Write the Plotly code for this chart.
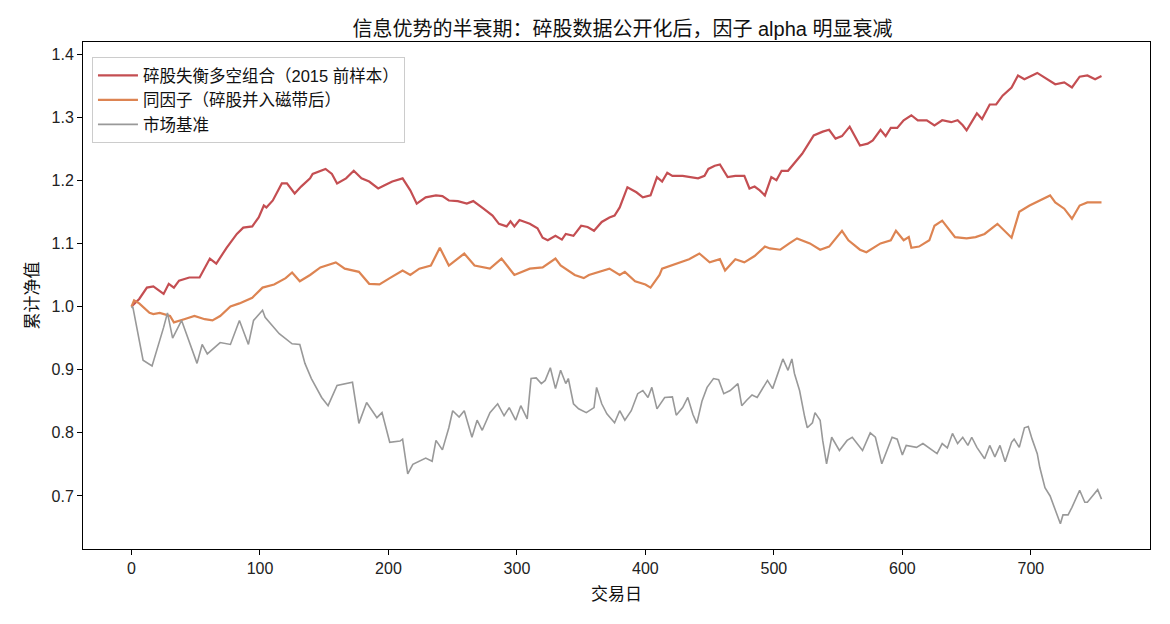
import plotly.graph_objects as go

# ---- data ----
red_days = [0, 6, 12, 17, 25, 29, 33, 37, 45, 53, 61, 66, 74, 82, 87, 94, 99, 103, 105, 110, 117, 121, 127, 132, 139, 141, 151, 156, 160, 167, 173, 179, 185, 192, 197, 203, 211, 217, 222, 229, 237, 242, 247, 254, 261, 266, 274, 281, 286, 292, 295, 298, 302, 310, 316, 320, 324, 330, 335, 338, 344, 350, 355, 360, 366, 372, 376, 380, 386, 393, 398, 404, 409, 413, 417, 421, 429, 437, 441, 446, 449, 454, 458, 464, 470, 477, 481, 485, 489, 493, 498, 502, 506, 511, 515, 522, 527, 531, 538, 543, 548, 553, 559, 563, 567, 573, 577, 583, 587, 591, 596, 601, 607, 612, 619, 625, 631, 638, 643, 647, 650, 658, 662, 668, 673, 678, 685, 690, 695, 705, 713, 719, 726, 732, 738, 744, 750, 755]
red_vals = [1.00, 1.012, 1.03, 1.032, 1.02, 1.036, 1.03, 1.041, 1.046, 1.046, 1.076, 1.068, 1.093, 1.115, 1.125, 1.127, 1.141, 1.16, 1.157, 1.168, 1.195, 1.195, 1.179, 1.19, 1.203, 1.21, 1.218, 1.21, 1.195, 1.203, 1.215, 1.203, 1.198, 1.187, 1.192, 1.198, 1.203, 1.184, 1.163, 1.173, 1.176, 1.175, 1.168, 1.167, 1.163, 1.167, 1.155, 1.144, 1.131, 1.127, 1.135, 1.127, 1.137, 1.131, 1.124, 1.109, 1.105, 1.112, 1.106, 1.115, 1.112, 1.128, 1.126, 1.12, 1.134, 1.141, 1.144, 1.157, 1.189, 1.181, 1.173, 1.176, 1.205, 1.198, 1.212, 1.207, 1.207, 1.205, 1.203, 1.207, 1.218, 1.223, 1.225, 1.205, 1.207, 1.207, 1.187, 1.19, 1.184, 1.176, 1.205, 1.2, 1.215, 1.215, 1.225, 1.242, 1.258, 1.271, 1.277, 1.28, 1.266, 1.27, 1.285, 1.27, 1.255, 1.258, 1.263, 1.28, 1.27, 1.283, 1.283, 1.295, 1.303, 1.295, 1.295, 1.287, 1.295, 1.292, 1.295, 1.287, 1.279, 1.306, 1.297, 1.32, 1.32, 1.334, 1.347, 1.366, 1.36, 1.37, 1.36, 1.352, 1.355, 1.347, 1.364, 1.366, 1.36, 1.365]

orange_days = [0, 2, 6, 14, 17, 22, 30, 33, 41, 49, 57, 63, 69, 77, 84, 94, 102, 111, 120, 125, 131, 139, 147, 159, 166, 177, 185, 193, 201, 211, 217, 224, 233, 240, 247, 259, 267, 279, 288, 298, 310, 320, 330, 334, 345, 352, 356, 364, 372, 380, 384, 392, 400, 404, 411, 413, 426, 434, 442, 450, 458, 462, 470, 477, 485, 493, 497, 505, 512, 518, 528, 536, 543, 553, 558, 567, 572, 583, 591, 595, 601, 605, 607, 613, 621, 625, 631, 641, 650, 657, 664, 674, 685, 691, 699, 715, 719, 726, 732, 738, 744, 755]
orange_vals = [1.0, 1.01, 1.005, 0.99, 0.988, 0.99, 0.985, 0.975, 0.98, 0.985, 0.98, 0.978, 0.985, 1.0, 1.005, 1.014, 1.03, 1.035, 1.045, 1.054, 1.04, 1.05, 1.062, 1.07, 1.06, 1.055, 1.036, 1.035, 1.045, 1.057, 1.05, 1.06, 1.065, 1.093, 1.065, 1.084, 1.065, 1.06, 1.076, 1.05, 1.06, 1.062, 1.076, 1.065, 1.05, 1.045, 1.05, 1.055, 1.06, 1.05, 1.055, 1.04, 1.035, 1.03, 1.05, 1.06, 1.07, 1.075, 1.084, 1.07, 1.075, 1.057, 1.075, 1.07, 1.08, 1.095, 1.092, 1.09, 1.10, 1.108, 1.10, 1.09, 1.095, 1.12, 1.105, 1.09, 1.086, 1.10, 1.105, 1.12, 1.105, 1.11, 1.093, 1.095, 1.105, 1.128, 1.136, 1.11, 1.108, 1.11, 1.115, 1.131, 1.109, 1.15, 1.16, 1.176, 1.165, 1.155, 1.139, 1.16, 1.165, 1.165]

gray_days = [0, 1, 9, 16, 25, 28, 32, 39, 51, 55, 59, 69, 77, 84, 91, 95, 102, 104, 115, 125, 131, 135, 140, 148, 153, 160, 172, 177, 183, 191, 195, 201, 209, 211, 215, 219, 229, 234, 237, 242, 247, 250, 255, 259, 265, 269, 273, 279, 285, 290, 294, 299, 303, 308, 311, 315, 319, 322, 326, 330, 334, 338, 340, 344, 348, 354, 360, 362, 366, 370, 376, 380, 384, 389, 394, 398, 402, 405, 409, 415, 421, 424, 429, 433, 437, 440, 444, 448, 453, 457, 461, 466, 472, 475, 479, 483, 487, 490, 495, 499, 505, 507, 511, 514, 516, 520, 524, 526, 530, 532, 536, 538, 541, 545, 551, 557, 561, 569, 575, 579, 584, 588, 592, 596, 600, 603, 611, 616, 621, 627, 631, 635, 639, 643, 647, 651, 654, 658, 664, 668, 672, 676, 680, 685, 687, 691, 695, 698, 701, 705, 707, 711, 715, 719, 723, 725, 729, 732, 738, 742, 744, 748, 752, 755]
gray_vals = [0.998, 1.0, 0.915, 0.906, 0.967, 0.99, 0.95, 0.978, 0.91, 0.94, 0.925, 0.943, 0.94, 0.978, 0.94, 0.978, 0.994, 0.983, 0.957, 0.941, 0.94, 0.91, 0.886, 0.856, 0.843, 0.875, 0.88, 0.815, 0.848, 0.824, 0.832, 0.785, 0.787, 0.79, 0.735, 0.75, 0.76, 0.755, 0.788, 0.773, 0.808, 0.835, 0.825, 0.835, 0.793, 0.82, 0.804, 0.832, 0.846, 0.827, 0.84, 0.82, 0.843, 0.822, 0.886, 0.887, 0.878, 0.883, 0.903, 0.87, 0.899, 0.878, 0.886, 0.846, 0.838, 0.832, 0.84, 0.872, 0.846, 0.83, 0.816, 0.835, 0.82, 0.835, 0.862, 0.867, 0.856, 0.872, 0.838, 0.856, 0.857, 0.828, 0.84, 0.856, 0.829, 0.815, 0.85, 0.872, 0.886, 0.884, 0.862, 0.867, 0.878, 0.843, 0.852, 0.86, 0.856, 0.867, 0.883, 0.87, 0.903, 0.917, 0.899, 0.917, 0.894, 0.867, 0.825, 0.808, 0.816, 0.832, 0.82, 0.788, 0.751, 0.793, 0.772, 0.788, 0.793, 0.772, 0.80, 0.793, 0.751, 0.772, 0.793, 0.79, 0.765, 0.78, 0.777, 0.783, 0.776, 0.767, 0.783, 0.776, 0.799, 0.783, 0.793, 0.78, 0.793, 0.777, 0.759, 0.78, 0.762, 0.78, 0.754, 0.785, 0.79, 0.777, 0.808, 0.81, 0.79, 0.767, 0.745, 0.713, 0.70, 0.677, 0.656, 0.67, 0.67, 0.682, 0.709, 0.69, 0.69, 0.70, 0.71, 0.695]

names = ["碎股失衡多空组合（2015 前样本）", "同因子（碎股并入磁带后）", "市场基准"]
title = "信息优势的半衰期：碎股数据公开化后，因子 alpha 明显衰减"
x_title = "交易日"
y_title = "累计净值"
x_ticks = [0, 100, 200, 300, 400, 500, 600, 700]
y_ticks = [0.7, 0.8, 0.9, 1.0, 1.1, 1.2, 1.3, 1.4]

FONT = "Liberation Sans, Noto Sans CJK SC, sans-serif"

fig = go.Figure()
fig.add_trace(go.Scatter(x=red_days, y=red_vals, mode="lines", name=names[0],
                         legendgroup="a", line=dict(color="#c44e52", width=2.2)))
fig.add_trace(go.Scatter(x=orange_days, y=orange_vals, mode="lines", name=names[1],
                         legendgroup="b", line=dict(color="#dd8452", width=2.2)))
fig.add_trace(go.Scatter(x=gray_days, y=gray_vals, mode="lines", name=names[2],
                         legendgroup="c", line=dict(color="#999999", width=1.6)))

axis_common = dict(showgrid=False, zeroline=False, showline=True, linecolor="black",
                   linewidth=1, mirror=True, ticks="outside", ticklen=5, tickcolor="black",
                   tickfont=dict(family=FONT, size=16, color="#222"))

fig.update_layout(
    width=1170, height=624,
    margin=dict(l=83, r=20, t=42, b=75),
    paper_bgcolor="white", plot_bgcolor="white",
    title=dict(text=title, x=0.532, xanchor="center", y=0.953, yanchor="middle",
               font=dict(family=FONT, size=20, color="#111")),
    xaxis=dict(range=[-37.75, 792.75], tickvals=x_ticks,
               title=dict(text=x_title, font=dict(family=FONT, size=17, color="#111"), standoff=11),
               **axis_common),
    yaxis=dict(range=[0.616, 1.419], tickvals=y_ticks, tickformat=".1f",
               title=dict(text=y_title, font=dict(family=FONT, size=17, color="#111"), standoff=8),
               **axis_common),
    legend=dict(x=0.0084, y=0.970, xanchor="left", yanchor="top",
                bordercolor="#cccccc", borderwidth=1, bgcolor="rgba(255,255,255,0.8)",
                font=dict(family=FONT, size=16.5, color="#111"), tracegroupgap=0,
                itemwidth=40),
    showlegend=True,
)

fig.write_html("out.html")
